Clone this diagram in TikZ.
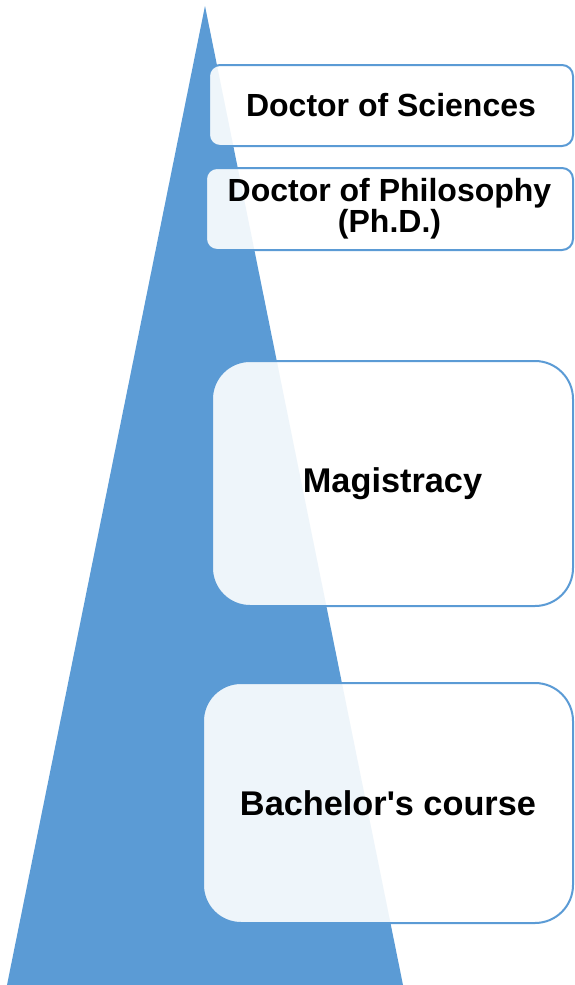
\documentclass[tikz,border=0pt]{standalone}
\usepackage{fontspec}
\setmainfont{Liberation Sans}
\definecolor{triblue}{HTML}{5B9BD5}
\begin{document}
\begin{tikzpicture}[x=1pt,y=-1pt,
  levelbox/.style={draw=triblue, line width=2pt, fill=white, fill opacity=0.9, text opacity=1,
    rectangle, inner sep=0pt, align=center},
  small/.style={rounded corners=11pt, font=\bfseries\fontsize{32}{31}\selectfont},
  large/.style={rounded corners=38pt, font=\bfseries\fontsize{34.3}{34}\selectfont}]
\useasboundingbox (0,0) rectangle (574,985);
\fill[triblue] (205,6) -- (403,985) -- (7,985) -- cycle;
\node[levelbox, small, minimum width=364pt, minimum height=81pt] (dsc) at (391,105.5) {Doctor of Sciences};
\node[levelbox, small, minimum width=367pt, minimum height=82pt] (phd) at (389.5,209) {Doctor of Philosophy\\(Ph.D.)};
\node[levelbox, large, minimum width=361pt, minimum height=245pt] (mag) at (392.5,483.5) {Magistracy};
\node[levelbox, large, minimum width=370pt, minimum height=240pt] (bach) at (388,803) {Bachelor\textquotesingle s course};
\end{tikzpicture}
\end{document}
